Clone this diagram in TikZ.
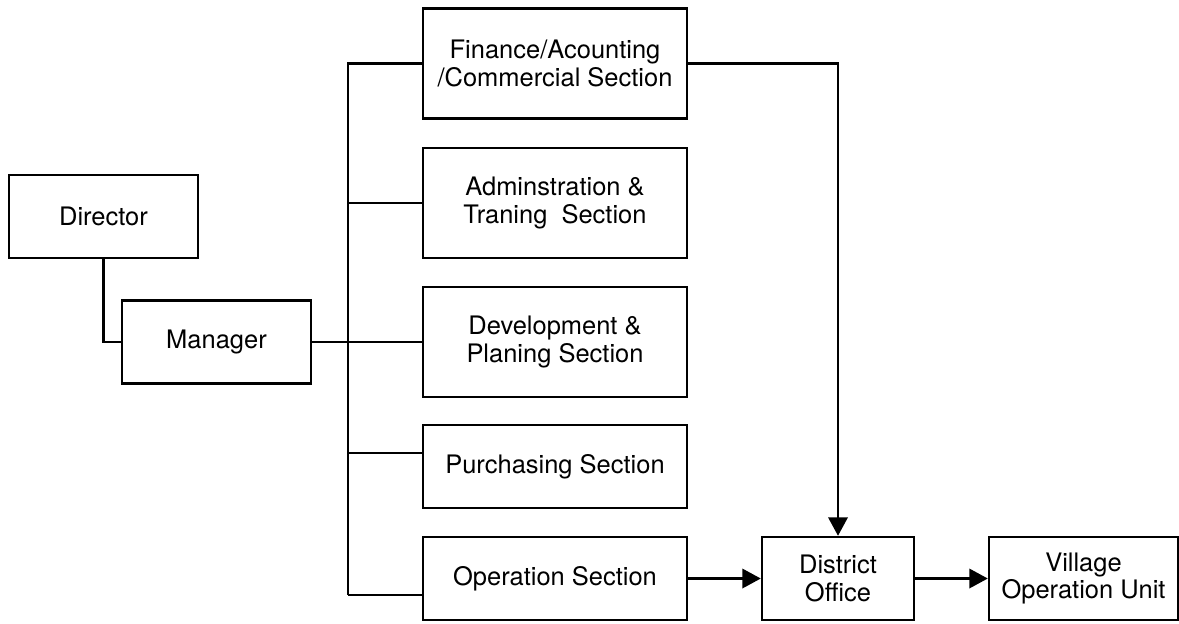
\documentclass[tikz,border=0pt]{standalone}
\usepackage{fontspec}
\setmainfont{TeX Gyre Heros}
\usetikzlibrary{arrows.meta}

\begin{document}
\begin{tikzpicture}[
        x=0.02cm, y=-0.02cm,
        line width=1.4pt,
        every node/.style={draw, rectangle, align=center, inner sep=2pt,
            font=\fontsize{14.5}{15.6}\selectfont},
        small box/.style={minimum width=3.78cm, minimum height=1.66cm},
        wide box/.style={minimum width=5.28cm, minimum height=2.2cm},
        flat box/.style={minimum width=5.28cm, minimum height=1.66cm},
        flow/.style={draw, -{Triangle[length=10.5pt, width=11pt]}}
        ]

        \useasboundingbox (0,0) rectangle (1179,623);

        \node[small box] (director) at (103.5,216.5) {Director};
        \node[small box] (manager) at (216.5,342) {Manager};

        \node[wide box] (finance) at (555,63.5) {Finance/Acounting\\/Commercial Section};
        \node[wide box] (admin) at (555,203) {Adminstration \&\\Traning\ \ Section};
        \node[wide box] (develop) at (555,342) {Development \&\\Planing Section};
        \node[flat box] (purchase) at (555,466.5) {Purchasing Section};
        \node[flat box] (operation) at (555,578.5) {Operation Section};

        \node[small box, minimum width=3.04cm] (district) at (838,578.5) {District\\Office};
        \node[small box] (village) at (1083.5,578.5) {Village\\Operation Unit};

        % section bus
        \coordinate (bus top) at (348,66);
        \coordinate (bus bottom) at (348,595);
        \coordinate (purchase tap) at (348,453);

        \draw (director.south) |- (manager.west);
        \draw (manager.east) -- (develop.west);
        \draw (finance.west) -| (bus bottom);
        \draw (admin.west) -- (admin.west -| bus top);
        \draw (purchase tap) -- (purchase tap -| purchase.west);
        \draw (bus bottom) -- (bus bottom -| operation.west);

        \draw[flow] (finance.east) -| (district.north);
        \draw[flow] (operation.east) -- (district.west);
        \draw[flow] (district.east) -- (village.west);
    \end{tikzpicture}
\end{document}
